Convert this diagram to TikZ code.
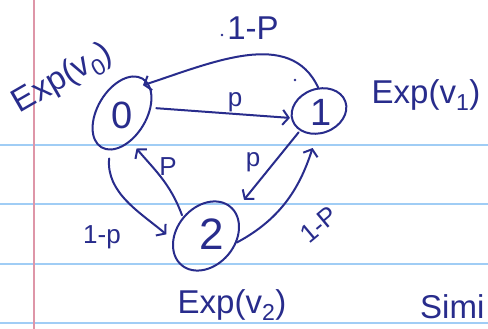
\documentclass[tikz,border=0pt]{standalone}
\usepackage{fontspec}
\setmainfont{Liberation Sans}
\usetikzlibrary{arrows.meta,shapes.geometric}
\definecolor{ink}{RGB}{40,44,140}
\definecolor{ruleblue}{RGB}{160,205,245}
\definecolor{marginred}{RGB}{222,150,168}
\begin{document}
\begin{tikzpicture}[x=1pt,y=1pt,
  state/.style={draw=ink, line width=2pt, ellipse, inner sep=0pt},
  digit/.style={text=ink, inner sep=0pt, font=\fontsize{38}{38}\selectfont},
  explabel/.style={text=ink, inner sep=0pt, font=\fontsize{33}{33}\selectfont},
  problabel/.style={text=ink, inner sep=0pt, font=\fontsize{26}{26}\selectfont},
  edge/.style={draw=ink, line width=2pt, line cap=round,
    -{Straight Barb[length=6pt,width=15pt,line width=2pt]}},
  paperrule/.style={ruleblue, line width=1.6pt},
  marginrule/.style={marginred, line width=1.6pt}]
\useasboundingbox (0,0) rectangle (488,329);
\fill[white] (0,0) rectangle (488,329);

% ruled notebook paper
\foreach \yy in {184,125,65,6} \draw[paperrule] (0,\yy) -- (488,\yy);
\draw[marginrule] (34,0) -- (34,329);

% the three states
\node[state, minimum width=80pt, minimum height=49pt, rotate=59] (s0) at (122,216) {};
\node[state, minimum width=56pt, minimum height=44pt, rotate=20] (s1) at (319,218) {};
\node[state, minimum width=76pt, minimum height=58pt, rotate=50] (s2) at (206,93) {};
\node[digit] (d0) at (122,214) {0};
\node[digit] (d1) at (321,217) {1};
\node[digit, font=\fontsize{44}{44}\selectfont] (d2) at (212,95) {2};

% holding-time labels
\node[explabel, rotate=30] (e0) at (63,250) {Exp(v\textsubscript{0})};
\node[explabel] (e1) at (426,234) {Exp(v\textsubscript{1})};
\node[explabel] (e2) at (232,24) {Exp(v\textsubscript{2})};
\node[explabel, anchor=west] (sim) at (420,22) {Simi};

% transitions
\draw[edge, shorten <=5pt, shorten >=1pt] (s0.-49) -- (s1.174);
\draw[edge, shorten >=-6pt] (s1.72) to[out=115,in=18] (s0.-11);
\draw[edge, shorten <=2pt, shorten >=14pt] (s1.206) -- (s2.-9);
\draw[edge, shorten >=14pt] (s2.-62) to[out=28,in=252] (s1.-115);
\draw[edge, shorten <=8pt, shorten >=8pt] (s0.193) to[out=265,in=140] (s2.136);
\draw[edge, shorten <=2pt, shorten >=9pt] (s2.91) to[out=110,in=-50] (s0.228);

% transition probabilities
\node[explabel] (p10) at (253,301) {1-P};
\node[problabel] (p01) at (235,227) {p};
\node[problabel] (p12) at (253,167) {p};
\node[problabel] (p20) at (168,162) {P};
\node[problabel, rotate=40] (p21) at (319,104) {1-P};
\node[problabel] (p02) at (102,92) {1-p};

% stray pen dots
\fill[ink] (222,294) circle (1.3pt);
\fill[ink] (295,249) circle (1.3pt);
\end{tikzpicture}
\end{document}
